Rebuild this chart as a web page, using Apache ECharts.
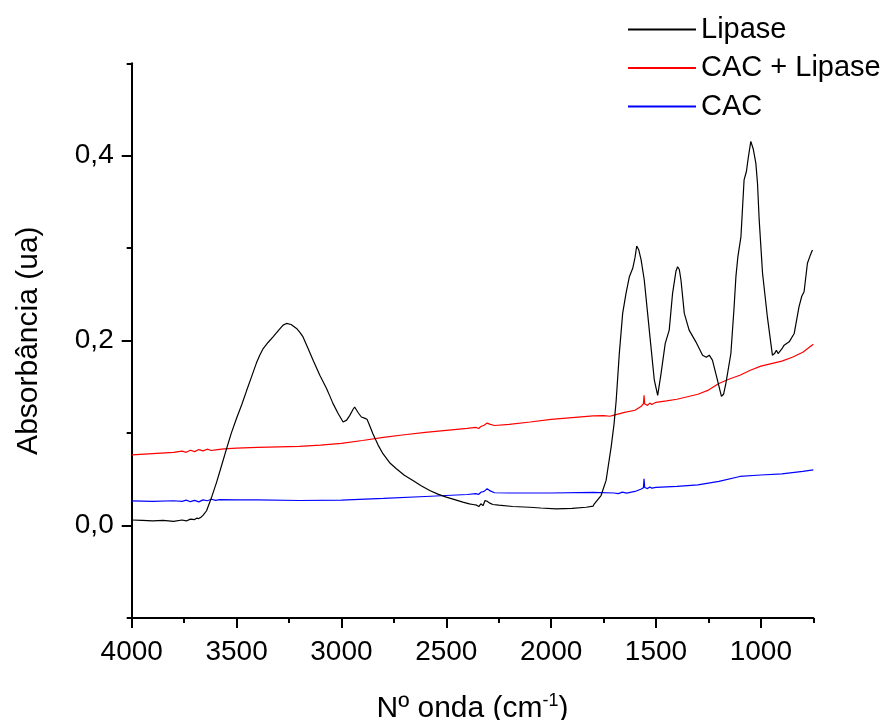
<!DOCTYPE html>
<html>
<head>
<meta charset="utf-8">
<script src="https://cdn.jsdelivr.net/npm/echarts@6/dist/echarts.min.js"></script>
<style>
  html, body { margin: 0; padding: 0; background: #fff; }
  #chart { width: 890px; height: 720px; }
</style>
</head>
<body>
<div id="chart"></div>
<script>
// FTIR spectra: wavenumber (cm-1) and absorbance (ua)
const lipaseWn = [4000, 3950, 3900, 3850, 3800, 3760, 3740, 3720, 3700, 3690, 3680, 3670, 3660, 3643, 3620, 3595, 3570, 3548, 3525, 3500, 3475, 3452, 3430, 3405, 3390, 3373, 3350, 3326, 3300, 3278, 3262, 3240, 3214, 3198, 3183, 3160, 3135, 3103, 3071, 3055, 3040, 3015, 2992, 2975, 2960, 2945, 2937, 2920, 2905, 2890, 2878, 2865, 2850, 2825, 2802, 2770, 2738, 2700, 2659, 2620, 2579, 2540, 2500, 2460, 2421, 2390, 2373, 2355, 2345, 2335, 2325, 2315, 2305, 2295, 2278, 2250, 2183, 2103, 2050, 1976, 1900, 1833, 1800, 1794, 1762, 1738, 1714, 1700, 1690, 1675, 1659, 1643, 1627, 1611, 1600, 1592, 1582, 1571, 1556, 1540, 1524, 1508, 1492, 1476, 1456, 1437, 1421, 1405, 1397, 1389, 1381, 1365, 1342, 1310, 1278, 1260, 1246, 1231, 1207, 1188, 1178, 1167, 1143, 1128, 1119, 1110, 1095, 1080, 1069, 1060, 1048, 1036, 1024, 1016, 1008, 992, 969, 945, 935, 926, 918, 913, 900, 889, 865, 841, 818, 805, 794, 778, 765, 754];
const lipaseAbs = [0.006, 0.0055, 0.005, 0.0055, 0.0045, 0.006, 0.005, 0.007, 0.0065, 0.008, 0.0075, 0.009, 0.011, 0.016, 0.03, 0.047, 0.066, 0.083, 0.1, 0.116, 0.131, 0.146, 0.16, 0.176, 0.184, 0.1915, 0.198, 0.204, 0.211, 0.2168, 0.2186, 0.2175, 0.2132, 0.209, 0.204, 0.192, 0.1789, 0.1626, 0.1482, 0.14, 0.1319, 0.121, 0.112, 0.114, 0.1192, 0.1255, 0.1282, 0.122, 0.1174, 0.1162, 0.1149, 0.108, 0.0994, 0.087, 0.0777, 0.068, 0.0615, 0.0545, 0.0488, 0.043, 0.0379, 0.034, 0.0307, 0.028, 0.0253, 0.0235, 0.0228, 0.022, 0.0205, 0.0235, 0.0215, 0.027, 0.0263, 0.0245, 0.0228, 0.022, 0.0206, 0.0198, 0.019, 0.0181, 0.0185, 0.0198, 0.021, 0.0235, 0.0325, 0.0488, 0.0849, 0.11, 0.135, 0.186, 0.2295, 0.2512, 0.2692, 0.2783, 0.29, 0.3024, 0.298, 0.2873, 0.2656, 0.2295, 0.1933, 0.1572, 0.1409, 0.1644, 0.197, 0.2114, 0.2512, 0.275, 0.28, 0.277, 0.2656, 0.2295, 0.2114, 0.1987, 0.1843, 0.182, 0.1843, 0.1789, 0.1572, 0.1398, 0.142, 0.1536, 0.1861, 0.235, 0.2692, 0.29, 0.3125, 0.374, 0.383, 0.398, 0.4155, 0.407, 0.392, 0.37, 0.3306, 0.2729, 0.2258, 0.1843, 0.186, 0.1897, 0.186, 0.1843, 0.191, 0.1951, 0.1987, 0.2078, 0.2367, 0.248, 0.2529, 0.2837, 0.292, 0.2981];

const cacLipaseWn = [4000, 3900, 3800, 3760, 3740, 3720, 3700, 3680, 3660, 3640, 3620, 3600, 3560, 3500, 3400, 3300, 3200, 3100, 3000, 2900, 2800, 2700, 2600, 2500, 2400, 2360, 2345, 2335, 2320, 2305, 2290, 2270, 2200, 2100, 2000, 1900, 1800, 1750, 1720, 1700, 1650, 1600, 1570, 1560, 1557, 1554, 1540, 1530, 1520, 1500, 1450, 1400, 1300, 1250, 1200, 1150, 1100, 1050, 1000, 900, 850, 800, 750];
const cacLipaseAbs = [0.0764, 0.0778, 0.0791, 0.0805, 0.0792, 0.0815, 0.08, 0.0822, 0.0808, 0.0826, 0.0812, 0.0818, 0.083, 0.0838, 0.0846, 0.0852, 0.0856, 0.087, 0.0889, 0.092, 0.0954, 0.0982, 0.1008, 0.103, 0.1051, 0.1062, 0.105, 0.1072, 0.1085, 0.1108, 0.1095, 0.1082, 0.1095, 0.112, 0.1149, 0.1168, 0.1187, 0.1188, 0.1182, 0.1195, 0.1225, 0.1247, 0.129, 0.132, 0.141, 0.1315, 0.13, 0.1325, 0.131, 0.1333, 0.1348, 0.1366, 0.142, 0.1465, 0.1536, 0.1585, 0.1626, 0.168, 0.1724, 0.1778, 0.182, 0.1875, 0.1962];

const cacWn = [4000, 3900, 3800, 3760, 3740, 3720, 3700, 3680, 3660, 3640, 3620, 3600, 3580, 3500, 3400, 3200, 3000, 2800, 2600, 2400, 2360, 2345, 2335, 2320, 2305, 2290, 2270, 2200, 2000, 1800, 1700, 1680, 1660, 1640, 1600, 1570, 1560, 1557, 1554, 1540, 1530, 1520, 1500, 1400, 1300, 1200, 1100, 1000, 900, 800, 750];
const cacAbs = [0.0266, 0.0262, 0.0268, 0.0262, 0.0275, 0.0258, 0.0272, 0.0256, 0.0278, 0.0268, 0.0284, 0.0272, 0.028, 0.0278, 0.0277, 0.0271, 0.0276, 0.0293, 0.0314, 0.0336, 0.0345, 0.0338, 0.036, 0.037, 0.0398, 0.0375, 0.0355, 0.0352, 0.0352, 0.0358, 0.0352, 0.0345, 0.0362, 0.035, 0.0369, 0.0395, 0.041, 0.0506, 0.0412, 0.04, 0.0418, 0.0405, 0.0412, 0.0423, 0.0439, 0.0477, 0.0531, 0.0547, 0.0558, 0.0585, 0.0602];

const seriesNames = ['Lipase', 'CAC + Lipase', 'CAC'];
const seriesColors = ['#000000', '#ff0000', '#0000ff'];

const xMajorTicks = [1000, 1500, 2000, 2500, 3000, 3500, 4000];
const xMinorTicks = [750, 1250, 1750, 2250, 2750, 3250, 3750];
const yMajorTicks = [0, 0.2, 0.4];
const yMinorTicks = [-0.1, 0.1, 0.3, 0.5];

const FONT = 'Liberation Sans, Arial, sans-serif';

function zip(xs, ys) {
  return xs.map((x, i) => [x, ys[i]]);
}

const chart = echarts.init(document.getElementById('chart'), null, { renderer: 'canvas' });

const axisLineStyle = { color: '#000', width: 2 };

const option = {
  backgroundColor: '#ffffff',
  animation: false,
  textStyle: { fontFamily: FONT },
  grid: { left: 131.7, right: 76.7, top: 63.3, bottom: 102, containLabel: false, outerBoundsMode: 'none' },
  legend: {
    orient: 'vertical',
    left: 622,
    top: 10,
    itemWidth: 68,
    itemHeight: 14,
    itemGap: 9.5,
    data: seriesNames,
    itemStyle: { opacity: 0 },
    textStyle: { fontFamily: FONT, fontSize: 29, color: '#000', lineHeight: 29 }
  },
  xAxis: [
    {
      type: 'value',
      inverse: true,
      min: 750,
      max: 4000,
      interval: 250,
      position: 'bottom',
      name: '{t|N}{o|º}{t| onda (cm}{s|-1}{t|)}',
      nameLocation: 'middle',
      nameGap: 74,
      nameTextStyle: {
        fontFamily: FONT,
        fontSize: 30,
        color: '#000',
        rich: {
          t: { fontFamily: FONT, fontSize: 30, color: '#000' },
          o: { fontFamily: FONT, fontSize: 30, color: '#000' },
          s: { fontFamily: FONT, fontSize: 18, color: '#000', verticalAlign: 'top', padding: [0, 0, 16, 0] }
        }
      },
      axisLine: { show: true, onZero: false, lineStyle: axisLineStyle },
      axisTick: { show: true, inside: false, length: 10, lineStyle: { color: '#000', width: 2 }, customValues: xMajorTicks },
      axisLabel: {
        show: true, margin: 20, fontFamily: FONT, fontSize: 28, color: '#000',
        customValues: xMajorTicks,
        formatter: v => String(v)
      },
      splitLine: { show: false }
    },
    {
      type: 'value',
      inverse: true,
      min: 750,
      max: 4000,
      interval: 250,
      position: 'bottom',
      offset: 0,
      axisLine: { show: false, onZero: false },
      axisTick: { show: true, inside: false, length: 5, lineStyle: { color: '#000', width: 2 }, customValues: xMinorTicks },
      axisLabel: { show: false },
      splitLine: { show: false }
    }
  ],
  yAxis: [
    {
      type: 'value',
      min: -0.1,
      max: 0.5,
      interval: 0.1,
      position: 'left',
      name: 'Absorbância (ua)',
      nameLocation: 'middle',
      nameGap: 88,
      nameTextStyle: { fontFamily: FONT, fontSize: 30, color: '#000' },
      axisLine: { show: true, onZero: false, lineStyle: axisLineStyle },
      axisTick: { show: true, inside: false, length: 10, lineStyle: { color: '#000', width: 2 }, customValues: yMajorTicks },
      axisLabel: {
        show: true, margin: 18, fontFamily: FONT, fontSize: 28, color: '#000',
        customValues: yMajorTicks,
        formatter: v => v.toFixed(1).replace('.', ',')
      },
      splitLine: { show: false }
    },
    {
      type: 'value',
      min: -0.1,
      max: 0.5,
      interval: 0.1,
      position: 'left',
      offset: 0,
      axisLine: { show: false, onZero: false },
      axisTick: { show: true, inside: false, length: 5, lineStyle: { color: '#000', width: 2 }, customValues: yMinorTicks },
      axisLabel: { show: false },
      splitLine: { show: false }
    }
  ],
  series: [
    { name: seriesNames[0], data: zip(lipaseWn, lipaseAbs) },
    { name: seriesNames[1], data: zip(cacLipaseWn, cacLipaseAbs) },
    { name: seriesNames[2], data: zip(cacWn, cacAbs) }
  ].map((s, i) => ({
    name: s.name,
    type: 'line',
    xAxisIndex: 0,
    yAxisIndex: 0,
    data: s.data,
    symbol: 'none',
    showSymbol: false,
    smooth: false,
    z: 3 - i,
    color: seriesColors[i],
    lineStyle: { color: seriesColors[i], width: 1.2 }
  }))
};

chart.setOption(option);
</script>
</body>
</html>
